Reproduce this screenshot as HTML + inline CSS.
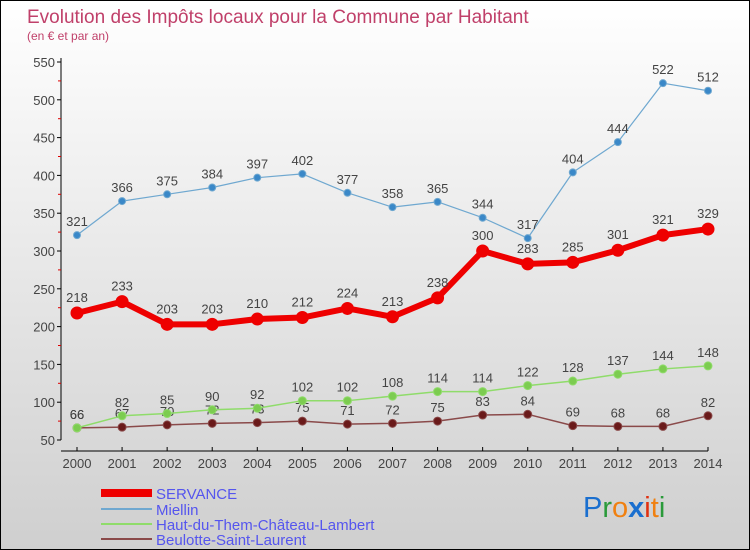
<!DOCTYPE html>
<html><head><meta charset="utf-8"><style>
body{margin:0}
#c{width:750px;height:550px;position:relative;overflow:hidden;box-sizing:border-box;border:1px solid #000;background:linear-gradient(#ffffff,#cfcfcf);font-family:"Liberation Sans",sans-serif}
</style></head><body>
<div id="c">
<svg id="s" width="750" height="550" style="position:absolute;left:0;top:0">
<text x="26" y="22" font-size="19" fill="#c0406a">Evolution des Impôts locaux pour la Commune par Habitant</text>
<text x="26" y="39" font-size="12" fill="#c0406a">(en € et par an)</text>
<g id="g"></g>
<g>
<line x1="100" y1="492" x2="151" y2="492" stroke="#e00" stroke-width="8"/>
<text x="155" y="498" font-size="15" fill="#5555ee">SERVANCE</text>
<line x1="100" y1="508" x2="151" y2="508" stroke="#6fa8d0" stroke-width="2"/>
<text x="155" y="514" font-size="15" fill="#5555ee">Miellin</text>
<line x1="100" y1="523" x2="151" y2="523" stroke="#8fdc6a" stroke-width="2"/>
<text x="155" y="529" font-size="15" fill="#5555ee">Haut-du-Them-Château-Lambert</text>
<line x1="100" y1="538" x2="151" y2="538" stroke="#8a4a4a" stroke-width="2"/>
<text x="155" y="544" font-size="15" fill="#5555ee">Beulotte-Saint-Laurent</text>
</g>
<g font-size="29" font-family="'Liberation Sans',sans-serif">
<text x="582" y="516"><tspan fill="#1a6fcf">P</tspan><tspan fill="#2a9a3a">r</tspan><tspan fill="#f08010">o</tspan><tspan fill="#1a6fcf" font-weight="bold">x</tspan><tspan fill="#e03010">i</tspan><tspan fill="#f08010">t</tspan><tspan fill="#2a9a3a">i</tspan></text>
</g>
</svg>
</div>
<script>
const years=[2000,2001,2002,2003,2004,2005,2006,2007,2008,2009,2010,2011,2012,2013,2014];
const servance=[218,233,203,203,210,212,224,213,238,300,283,285,301,321,329];
const miellin=[321,366,375,384,397,402,377,358,365,344,317,404,444,522,512];
const hautDuThem=[66,82,85,90,92,102,102,108,114,114,122,128,137,144,148];
const beulotte=[66,67,70,72,73,75,71,72,75,83,84,69,68,68,82];
const yTicks=[50,100,150,200,250,300,350,400,450,500,550];
const NS="http://www.w3.org/2000/svg";
const g=document.getElementById('g');
const x=i=>76+i*(707-76)/(years.length-1);
const y=v=>439-(v-50)*378/500;
function mk(t,a,p){const e=document.createElementNS(NS,t);for(const k in a)e.setAttribute(k,a[k]);(p||g).appendChild(e);return e;}
let e=mk('line',{x1:60,y1:y(550)-4,x2:60,y2:y(50),stroke:'#000'});


e=mk('line',{x1:60,y1:450,x2:707,y2:450,stroke:'#000'});


yTicks.forEach(v=>{
 mk('line',{x1:56,x2:60,y1:y(v),y2:y(v),stroke:'#000'});
 if(v<550) mk('line',{x1:57,x2:60,y1:y(v+25),y2:y(v+25),stroke:'#d00'});
 e=mk('text',{x:54,y:y(v)+5,'font-size':13,fill:'#444','text-anchor':'end'});e.textContent=v;
 
 
});
years.forEach((yr,i)=>{
 mk('line',{x1:x(i),x2:x(i),y1:446,y2:450,stroke:'#000'});
 e=mk('text',{x:x(i),y:467,'font-size':13,fill:'#444','text-anchor':'middle'});e.textContent=yr;
 
 
});
function series(d,col,dot,w,r,name,dy){
 const s=mk('g',{});
 
 
 mk('polyline',{points:d.map((v,i)=>x(i)+','+y(v)).join(' '),fill:'none',stroke:col,'stroke-width':w,'stroke-linejoin':'round'},s);
 d.forEach((v,i)=>{
  const c=mk('circle',{cx:x(i),cy:y(v),r:r,fill:dot,stroke:col,'stroke-width':1},s);
  
  
  const t=mk('text',{x:x(i),y:y(v)-(dy||9),'font-size':13,fill:'#444','text-anchor':'middle'},s);t.textContent=v;
  
  
 });
}
series(beulotte,'#8a4a4a','#6a1a1a',1.5,4,'beulotte');
series(hautDuThem,'#8fdc6a','#7ccc50',1.5,4,'haut-du-them');
series(miellin,'#6fa8d0','#3a88c8',1.2,3.5,'miellin');
series(servance,'#e00','#e00',6,6,'servance',11);
</script>
</body></html>
